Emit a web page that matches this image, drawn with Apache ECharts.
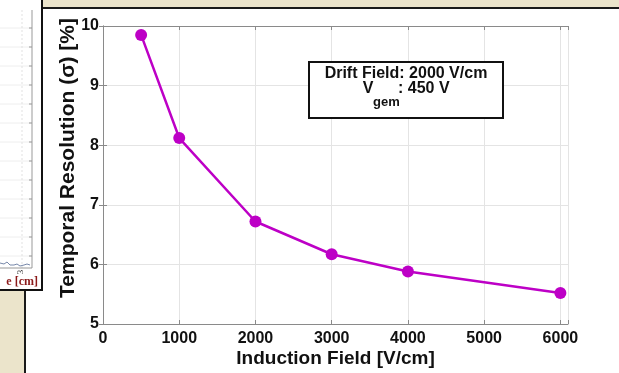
<!DOCTYPE html>
<html>
<head>
<meta charset="utf-8">
<script src="https://cdn.jsdelivr.net/npm/echarts@6/dist/echarts.min.js"></script>
<style>
html,body{margin:0;padding:0;background:#ebe4cb;}
#c{width:619px;height:373px;}
</style>
</head>
<body>
<div id="c"></div>
<script>
const inductionField = [500, 1000, 2000, 3000, 4000, 6000];
const temporalResolution = [9.85, 8.12, 6.72, 6.17, 5.88, 5.52];
const xTicks = [0, 1000, 2000, 3000, 4000, 5000, 6000];
const yTicks = [5, 6, 7, 8, 9, 10];
const xTitle = 'Induction Field [V/cm]';
const yTitle = 'Temporal Resolution (\u03c3) [%]';
const noteLine1 = 'Drift Field: 2000 V/cm';
const noteV = 'V';
const noteSub = 'gem';
const noteRest = ': 450 V';

const chart = echarts.init(document.getElementById('c'), null, {renderer: 'canvas'});
const FONT = 'Liberation Sans, Arial, sans-serif';
const axisGray = '#8a8a8a';
const gridGray = '#e4e4e4';

const seriesData = inductionField.map((x, i) => [x, temporalResolution[i]]);

// decorative left (cut-off) panel
const leftPanel = [];
const gy = [28, 47, 66, 85, 104, 123, 142, 161, 180, 199, 218, 237, 256];
gy.forEach(y => {
  leftPanel.push({type: 'line', shape: {x1: 0, y1: y, x2: 32, y2: y}, style: {stroke: '#eeeeee', lineWidth: 1}, z: 2});
  leftPanel.push({type: 'line', shape: {x1: 29, y1: y, x2: 32, y2: y}, style: {stroke: '#999', lineWidth: 1}, z: 3});
});

const option = {
  backgroundColor: '#ebe4cb',
  animation: false,
  textStyle: {fontFamily: FONT},
  graphic: [
    {type: 'rect', shape: {x: 25, y: 8, width: 600, height: 370}, style: {fill: '#ffffff', stroke: '#1a1a1a', lineWidth: 2}, z: 0, silent: true},
    {type: 'rect', shape: {x: -3, y: -3, width: 45, height: 293}, style: {fill: '#ffffff', stroke: '#111111', lineWidth: 2}, z: 1, silent: true},
    ...leftPanel,
    {type: 'line', shape: {x1: 22, y1: 10, x2: 22, y2: 268}, style: {stroke: '#e2e2e2', lineWidth: 1, lineDash: [2, 2]}, z: 2},
    {type: 'line', shape: {x1: 32, y1: 10, x2: 32, y2: 268}, style: {stroke: '#999', lineWidth: 1}, z: 3},
    {type: 'line', shape: {x1: 0, y1: 268, x2: 32, y2: 268}, style: {stroke: '#999', lineWidth: 1}, z: 3},
    {type: 'polyline', shape: {points: [[0,263],[4,264],[7,262],[10,265],[14,265],[17,264],[20,266],[24,265],[27,264],[30,265]]}, style: {stroke: '#7788aa', lineWidth: 1, fill: null}, z: 3},
    {type: 'text', x: 21, y: 272, rotation: Math.PI / 2, style: {text: '3', fontFamily: 'Liberation Serif, serif', fontSize: 9, fill: '#333', align: 'center', verticalAlign: 'middle'}, z: 3},
    {type: 'text', x: 38, y: 282, style: {text: 'e [cm]', fontFamily: 'Liberation Serif, serif', fontWeight: 'bold', fontSize: 12, fill: '#8b1a1a', align: 'right', verticalAlign: 'middle'}, z: 3},
    // annotation box
    {type: 'rect', shape: {x: 309, y: 62, width: 194, height: 56}, style: {fill: '#ffffff', stroke: '#111111', lineWidth: 2}, z: 10},
    {type: 'text', x: 406, y: 74, style: {text: noteLine1, fontFamily: FONT, fontWeight: 'bold', fontSize: 16, fill: '#111', align: 'center', verticalAlign: 'middle'}, z: 11},
    {type: 'text', x: 368, y: 89, style: {text: noteV, fontFamily: FONT, fontWeight: 'bold', fontSize: 16, fill: '#111', align: 'center', verticalAlign: 'middle'}, z: 11},
    {type: 'text', x: 373, y: 102, style: {text: noteSub, fontFamily: FONT, fontWeight: 'bold', fontSize: 13, fill: '#111', align: 'left', verticalAlign: 'middle'}, z: 11},
    {type: 'text', x: 398, y: 89, style: {text: noteRest, fontFamily: FONT, fontWeight: 'bold', fontSize: 16, fill: '#111', align: 'left', verticalAlign: 'middle'}, z: 11}
  ],
  grid: {left: 103, top: 26, width: 465, height: 300, containLabel: false, show: false},
  xAxis: [{
    type: 'value', position: 'bottom', min: 0, max: 6100, interval: 1000,
    name: xTitle, nameLocation: 'middle', nameGap: 25, nameMoveOverlap: false,
    nameTextStyle: {fontFamily: FONT, fontWeight: 'bold', fontSize: 19, color: '#111', verticalAlign: 'top'},
    axisLine: {show: true, lineStyle: {color: axisGray, width: 1}},
    axisTick: {show: true, inside: true, length: 4, lineStyle: {color: axisGray}},
    axisLabel: {show: true, margin: 7, fontFamily: FONT, fontWeight: 'bold', fontSize: 16, color: '#111',
      formatter: v => (xTicks.indexOf(v) >= 0 ? String(v) : '')},
    splitLine: {show: true, lineStyle: {color: gridGray, width: 1}}
  }, {
    type: 'value', position: 'top', min: 0, max: 6100, interval: 1000,
    axisLine: {show: true, lineStyle: {color: axisGray, width: 1}},
    axisTick: {show: true, inside: true, length: 4, lineStyle: {color: axisGray}},
    axisLabel: {show: false}, splitLine: {show: false}
  }],
  yAxis: [{
    type: 'value', position: 'left', min: 5, max: 10, interval: 1,
    name: yTitle, nameLocation: 'middle', nameGap: 24, nameMoveOverlap: false,
    nameTextStyle: {fontFamily: FONT, fontWeight: 'bold', fontSize: 21, color: '#111', padding: [0, 0, 0, 34]},
    axisLine: {show: true, lineStyle: {color: axisGray, width: 1}},
    axisTick: {show: true, inside: true, length: 4, lineStyle: {color: axisGray}},
    axisLabel: {show: true, margin: 4, fontFamily: FONT, fontWeight: 'bold', fontSize: 16, color: '#111',
      formatter: v => (yTicks.indexOf(v) >= 0 ? String(v) : '')},
    splitLine: {show: true, lineStyle: {color: gridGray, width: 1}}
  }, {
    type: 'value', position: 'right', min: 5, max: 10, interval: 1,
    axisLine: {show: true, lineStyle: {color: axisGray, width: 1}},
    axisTick: {show: true, inside: true, length: 4, lineStyle: {color: axisGray}},
    axisLabel: {show: false}, splitLine: {show: false}
  }],
  series: [{
    type: 'line', xAxisIndex: 0, yAxisIndex: 0,
    data: seriesData,
    symbol: 'circle', symbolSize: 12,
    lineStyle: {color: '#bd00c6', width: 2.5},
    itemStyle: {color: '#bd00c6'},
    z: 5
  }]
};
chart.setOption(option);
</script>
</body>
</html>
